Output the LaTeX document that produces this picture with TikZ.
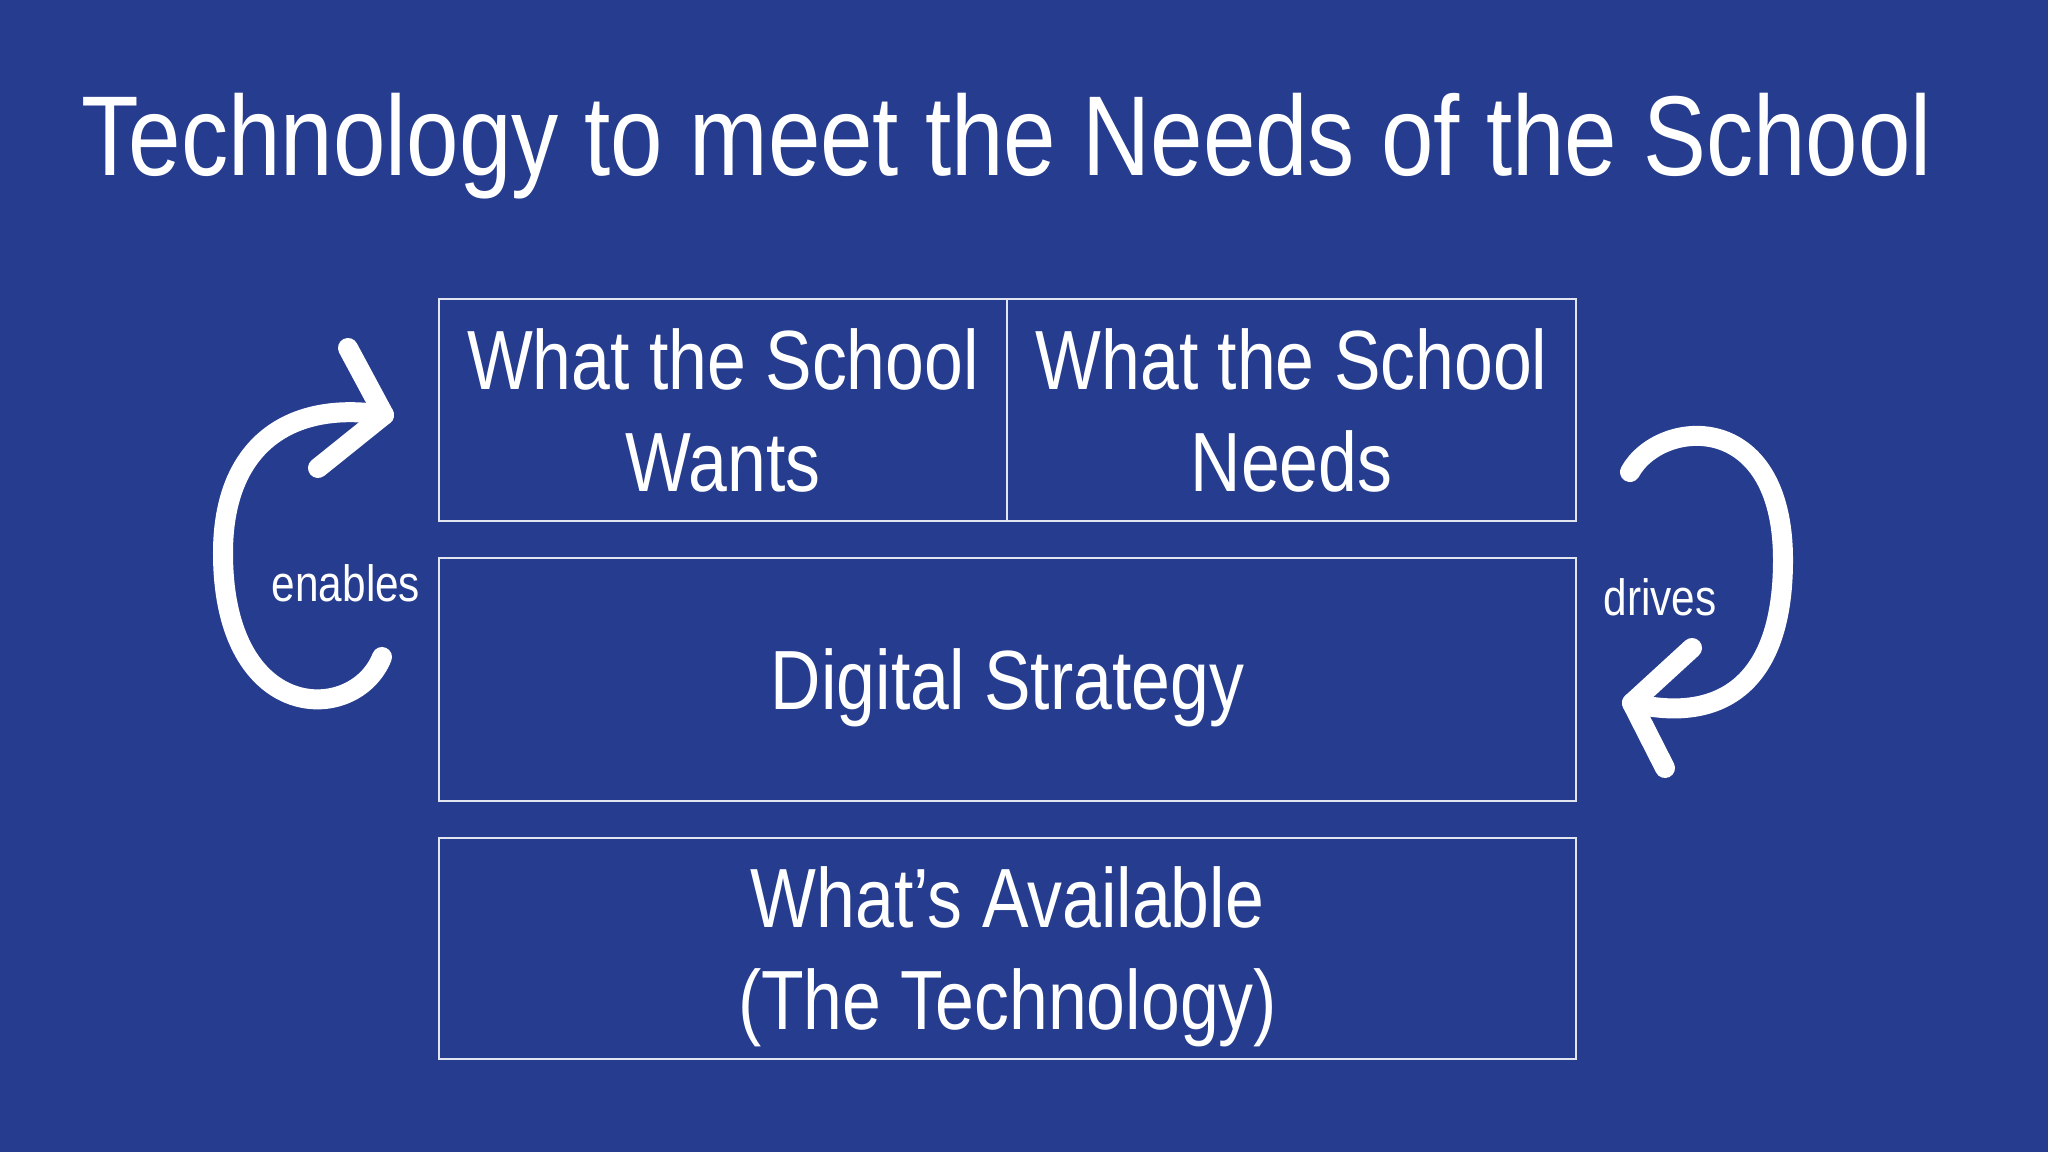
\documentclass[tikz,border=0pt]{standalone}
\usepackage{fontspec}
\setmainfont{Liberation Sans}[FakeStretch=0.83]
\usetikzlibrary{positioning}
\definecolor{slide}{RGB}{37,60,143}
\definecolor{rule}{RGB}{225,229,240}
\tikzset{
  cell/.style={draw=rule, line width=0.55pt, text=white, align=center, inner sep=0pt,
    font=\fontsize{23.9pt}{29pt}\selectfont},
  loop/.style={draw=white, line width=0.2cm, line cap=round, line join=round},
  word/.style={text=white, font=\fontsize{14.5pt}{17pt}\selectfont},
}

\begin{document}
\begin{tikzpicture}[x=0.01cm, y=-0.01cm]
\fill [slide] (0,0) rectangle (2048,1152);
\node [text=white, anchor=base west, inner sep=0pt, font=\fontsize{32.3pt}{38pt}\selectfont] (title) at (81,176) {Technology to meet the Needs of the School};
\node [cell, minimum width=5.68cm, minimum height=2.22cm] (wants) at (723,410) {What the School\\Wants};
\node [cell, minimum width=5.69cm, minimum height=2.22cm] (needs) at (1291.5,410) {What the School\\Needs};
\node [cell, minimum width=11.37cm, minimum height=2.43cm, text depth=0pt] (digital) at (1007.5,679.5) {Digital Strategy};
\node [cell, minimum width=11.37cm, minimum height=2.21cm] (avail) at (1007.5,948.5) {What’s Available\\\smash{(The Technology)}};
% enables loop
\draw [loop] (382,657) .. controls (355,725) and (223,725) .. (223,553) .. controls (223,445) and (290,400) .. (384,415);
\draw [loop] (348,348) -- (384,415) -- (318,468);
\node [word, anchor=base] (enables) at (346,601) {enables};
% drives loop
\draw [loop] (1630,472) .. controls (1660,418) and (1783,408) .. (1783,560) .. controls (1783,695) and (1710,722) .. (1632,703);
\draw [loop] (1692,648) -- (1632,703) -- (1665,768);
\node [word, anchor=base] (drives) at (1660,615) {drives};
\end{tikzpicture}
\end{document}
